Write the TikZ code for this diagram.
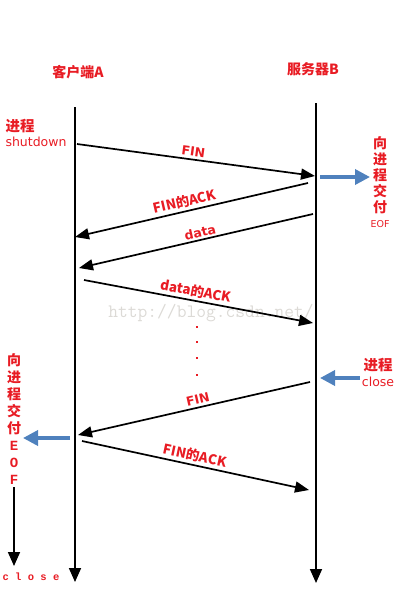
\documentclass[tikz,border=0pt]{standalone}
\usepackage{fontspec}
\setmainfont{DejaVu Sans}
\newfontfamily\cjk{Noto Sans CJK SC}
\newfontfamily\mono{Liberation Mono}
\usetikzlibrary{arrows.meta}
\definecolor{rd}{RGB}{232,28,36}
\definecolor{bl}{RGB}{79,129,189}
\definecolor{wm}{RGB}{220,218,214}
\begin{document}
\begin{tikzpicture}[x=1pt,y=-1pt,
  life/.style={line width=1.7pt,-{Triangle[length=14pt,width=12pt]}},
  msg/.style={line width=1.7pt,-{Triangle[length=14pt,width=11pt]}},
  blarr/.style={line width=3.5pt,draw=bl,-{Triangle[length=15pt,width=15pt]}},
  head/.style={text=rd,font=\cjk\bfseries\fontsize{14}{16}\selectfont,inner sep=0pt},
  lbl/.style={text=rd,font=\bfseries\fontsize{12.5}{14}\selectfont,sloped,above,inner sep=2.5pt},
  lblc/.style={lbl,font=\cjk\bfseries\fontsize{13.5}{15}\selectfont},
  side/.style={text=rd,font=\fontsize{12.5}{14}\selectfont,inner sep=0pt},
  vert/.style={text=rd,font=\cjk\bfseries\fontsize{14}{16}\selectfont,align=center,inner sep=0pt},
  dot/.style={fill=rd,draw=none,inner sep=0pt,minimum size=2pt,rectangle}]
\useasboundingbox (0,0) rectangle (400,600);

% watermark
\node[text=wm,font=\ttfamily\fontsize{19}{20}\selectfont,inner sep=0pt,text height=11pt,text depth=3pt] (wmk) at (211,313) {http://blog.csdn.net/};

% headers
\node[head] (ha) at (78,72) {客户端A};
\node[head] (hb) at (313,69) {服务器B};

% lifelines
\coordinate (cTop) at (75,107);
\coordinate (cBot) at (75,582);
\coordinate (sTop) at (316,103);
\coordinate (sBot) at (316,583);
\draw[life] (cTop) -- (cBot);
\draw[life] (sTop) -- (sBot);

% left labels
\node[head,font=\cjk\bfseries\fontsize{14.5}{16}\selectfont] (p1) at (20,126) {进程};
\node[side] (sd) at (36,142) {shutdown};

% messages
\coordinate (m1a) at (77,144); \coordinate (m1b) at (315,176);
\coordinate (m2a) at (308,183); \coordinate (m2b) at (75,237);
\coordinate (m3a) at (313,214); \coordinate (m3b) at (79,268);
\coordinate (m4a) at (84,280); \coordinate (m4b) at (313,323);
\coordinate (m5a) at (310,382); \coordinate (m5b) at (78,435);
\coordinate (m6a) at (82,441); \coordinate (m6b) at (309,490);

\draw[msg] (m1a) -- node[lbl,pos=0.485] (l1) {FIN} (m1b);
\draw[msg] (m2a) -- node[lblc,pos=0.52] (l2) {FIN的ACK} (m2b);
\draw[msg] (m3a) -- node[lbl,pos=0.476,inner sep=1.5pt] (l3) {data} (m3b);
\draw[msg] (m4a) -- node[lblc,pos=0.48] (l4) {data的ACK} (m4b);
\draw[msg] (m5a) -- node[lbl,pos=0.476] (l5) {FIN} (m5b);
\draw[msg] (m6a) -- node[lblc,pos=0.49] (l6) {FIN的ACK} (m6b);

% dots
\node[dot] (d1) at (197,327) {};
\node[dot] (d2) at (197,342) {};
\node[dot] (d3) at (197,358) {};
\node[dot] (d4) at (197,375) {};

% right top blue arrow and text
\coordinate (b1a) at (320,177); \coordinate (b1b) at (370,177);
\draw[blarr] (b1a) -- (b1b);
\node[vert] (rv) at (380,175) {向\\进\\程\\交\\付};
\node[side,font=\fontsize{9.5}{11}\selectfont] (reof) at (380,224) {EOF};

% right middle blue arrow and text
\coordinate (b2a) at (360,378); \coordinate (b2b) at (320,378);
\draw[blarr] (b2a) -- (b2b);
\node[head,font=\cjk\bfseries\fontsize{14.5}{16}\selectfont] (p2) at (378,365) {进程};
\node[side] (cl) at (378,382) {close};

% left bottom blue arrow and text
\coordinate (b3a) at (70,438); \coordinate (b3b) at (23,438);
\draw[blarr] (b3a) -- (b3b);
\node[vert,font=\bfseries\fontsize{14}{16.9}\selectfont] (lv) at (14,419) {{\cjk 向}\\{\cjk 进}\\{\cjk 程}\\{\cjk 交}\\{\cjk 付}\\{\mono E}\\{\mono O}\\{\mono F}};
\coordinate (la) at (14,487); \coordinate (lb) at (14,566);
\draw[life] (la) -- (lb);
\node[text=rd,font=\mono\bfseries\fontsize{10.5}{12}\selectfont,inner sep=0pt] (lclose) at (31,577) {c l o s e};
\end{tikzpicture}
\end{document}
